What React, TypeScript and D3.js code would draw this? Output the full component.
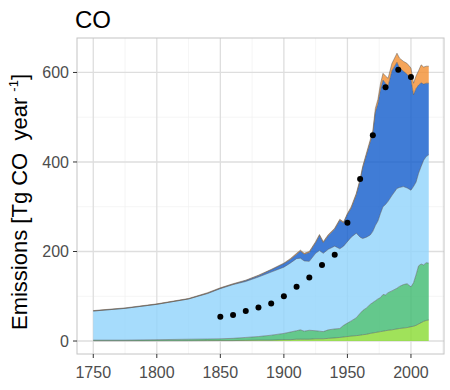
import React from 'react'
import * as d3 from 'd3'

// ---- data ----
const years = [1750, 1775, 1800, 1825, 1840, 1850, 1860, 1870, 1880, 1890, 1900, 1905, 1910, 1913, 1916, 1920, 1925, 1928, 1931, 1935, 1940, 1944, 1947, 1950, 1953, 1957, 1960, 1962, 1965, 1968, 1970, 1972, 1974, 1976, 1978, 1980, 1982, 1985, 1989, 1991, 1994, 1997, 2000, 2002, 2004, 2006, 2008, 2010, 2012, 2014]

const lightGreen = [0.5, 0.5, 0.6, 0.7, 0.9, 1, 1, 1.5, 2, 2, 3, 3, 4, 4, 4, 4, 5, 5, 5, 6, 7, 8, 9, 10, 11, 12, 13, 14, 15, 17, 18, 19, 20, 21, 22, 23, 24, 25, 27, 28, 29, 30, 32, 33, 35, 38, 41, 44, 46, 47]
const green = [1.5, 1.5, 2.4, 3.3, 3.6, 4, 5, 6.5, 8, 11, 14, 17, 19, 21, 18, 20, 18, 17, 16, 19, 20, 20, 26, 30, 34, 40, 49, 54, 59, 65, 68, 71, 74, 76, 82, 80, 84, 87, 91, 94, 97, 98, 89, 97, 113, 130, 131, 126, 129, 127]
const lightBlue = [65, 71, 79, 90, 101.5, 112, 120, 125, 133, 141, 148, 154, 161, 160, 157, 154, 173, 180, 175, 180, 185, 178, 177, 182, 187, 189, 170, 161, 158, 155, 159, 168, 174, 188, 196, 202, 204, 213, 223, 221, 219, 214, 216, 215, 207, 207, 218, 234, 237, 242]
const darkBlue = [0, 0, 0, 0, 1, 1, 1, 2, 3, 5, 8, 8, 10, 16, 15, 20, 24, 34, 24, 31, 38, 64, 52, 61, 65, 86, 127, 158, 184, 208, 219, 254, 262, 277, 283, 271, 258, 279, 282, 267, 258, 254, 248, 205, 209, 197, 187, 170, 164, 160]
const orange = [1, 1, 1, 1, 1, 1, 1, 1, 1, 1, 1, 2, 2, 2, 2, 2, 2, 2, 2, 2, 2, 2, 2, 2, 3, 3, 3, 3, 4, 5, 6, 8, 10, 13, 15, 16, 17, 16, 20, 22, 22, 24, 25, 26, 28, 32, 40, 38, 38, 38]

const obsYears = [1850, 1860, 1870, 1880, 1890, 1900, 1910, 1920, 1930, 1940, 1950, 1960, 1970, 1980, 1990, 2000]
const obsValues = [54, 58, 67, 75, 84, 100, 121, 142, 170, 193, 264, 362, 460, 567, 606, 590]

const xTicks = [1750, 1800, 1850, 1900, 1950, 2000]
const xMinor = [1775, 1825, 1875, 1925, 1975, 2025]
const yTicks = [0, 200, 400, 600]
const yMinor = [100, 300, 500]

const keys = ['lg', 'g', 'lb', 'db', 'o']
const colors = { lg: '#88db31', g: '#3dba6f', lb: '#90d3fb', db: '#105bcc', o: '#f38f31' }

export default function App() {
  const width = 450
  const height = 390
  const panel = { left: 77, right: 444, top: 38, bottom: 354 }
  const font = '"Liberation Sans", Arial, Helvetica, sans-serif'

  const x = d3.scaleLinear().domain([1737.2, 2026]).range([panel.left, panel.right])
  const y = d3.scaleLinear().domain([-29, 677]).range([panel.bottom, panel.top])

  const rows = years.map((yr, i) => ({
    year: yr, lg: lightGreen[i], g: green[i], lb: lightBlue[i], db: darkBlue[i], o: orange[i]
  }))
  const series = d3.stack().keys(keys)(rows as any)

  const area = d3.area<any>()
    .x(d => x(d.data.year))
    .y0(d => y(d[0]))
    .y1(d => y(d[1]))
  const topLine = d3.line<any>()
    .x(d => x(d.data.year))
    .y(d => y(d[1]))

  return (
    <svg width={width} height={height} viewBox={`0 0 ${width} ${height}`}
      style={{ position: 'absolute', left: 0, top: 0, fontFamily: font }}>
      <rect x={0} y={0} width={width} height={height} fill="#fff" />

      {/* grid */}
      {xMinor.map(t => (
        <line key={'xm' + t} x1={x(t)} x2={x(t)} y1={panel.top} y2={panel.bottom} stroke="#f0f0f0" strokeWidth={0.7} />
      ))}
      {yMinor.map(t => (
        <line key={'ym' + t} x1={panel.left} x2={panel.right} y1={y(t)} y2={y(t)} stroke="#f0f0f0" strokeWidth={0.7} />
      ))}
      {xTicks.map(t => (
        <line key={'xg' + t} x1={x(t)} x2={x(t)} y1={panel.top} y2={panel.bottom} stroke="#dedede" strokeWidth={1.3} />
      ))}
      {yTicks.map(t => (
        <line key={'yg' + t} x1={panel.left} x2={panel.right} y1={y(t)} y2={y(t)} stroke="#dedede" strokeWidth={1.3} />
      ))}

      {/* stacked areas */}
      {series.map(s => (
        <path key={s.key} d={area(s) || ''} fill={colors[s.key]} fillOpacity={0.8} />
      ))}
      {series.map(s => (
        <path key={'l' + s.key} d={topLine(s) || ''} fill="none" stroke="#555" strokeOpacity={0.8} strokeWidth={0.6} />
      ))}

      {/* observations */}
      {obsYears.map((yr, i) => (
        <circle key={yr} cx={x(yr)} cy={y(obsValues[i])} r={3} fill="#000" />
      ))}

      {/* panel border */}
      <rect x={panel.left} y={panel.top} width={panel.right - panel.left} height={panel.bottom - panel.top}
        fill="none" stroke="#c4c4c4" strokeWidth={1} />

      {/* x axis */}
      {xTicks.map(t => (
        <g key={'xt' + t}>
          <line x1={x(t)} x2={x(t)} y1={panel.bottom} y2={panel.bottom + 4} stroke="#333" strokeWidth={1} />
          <text x={x(t)} y={378} textAnchor="middle" fontSize={16} fill="#4d4d4d">{t}</text>
        </g>
      ))}

      {/* y axis */}
      {yTicks.map(t => (
        <g key={'yt' + t}>
          <line x1={panel.left - 4} x2={panel.left} y1={y(t)} y2={y(t)} stroke="#333" strokeWidth={1} />
          <text x={panel.left - 8} y={y(t)} dy="0.36em" textAnchor="end" fontSize={16} fill="#4d4d4d">{t}</text>
        </g>
      ))}

      <text transform={`translate(27,202) rotate(-90)`} textAnchor="middle"
        fontSize={22} fill="#000">
        {'Emissions [Tg CO\u00a0\u00a0year\u00a0'}<tspan dy={-9} fontSize={13}>-1</tspan><tspan dy={9}>]</tspan>
      </text>

      <text x={75} y={28} fontSize={24} fill="#000">CO</text>
    </svg>
  )
}
